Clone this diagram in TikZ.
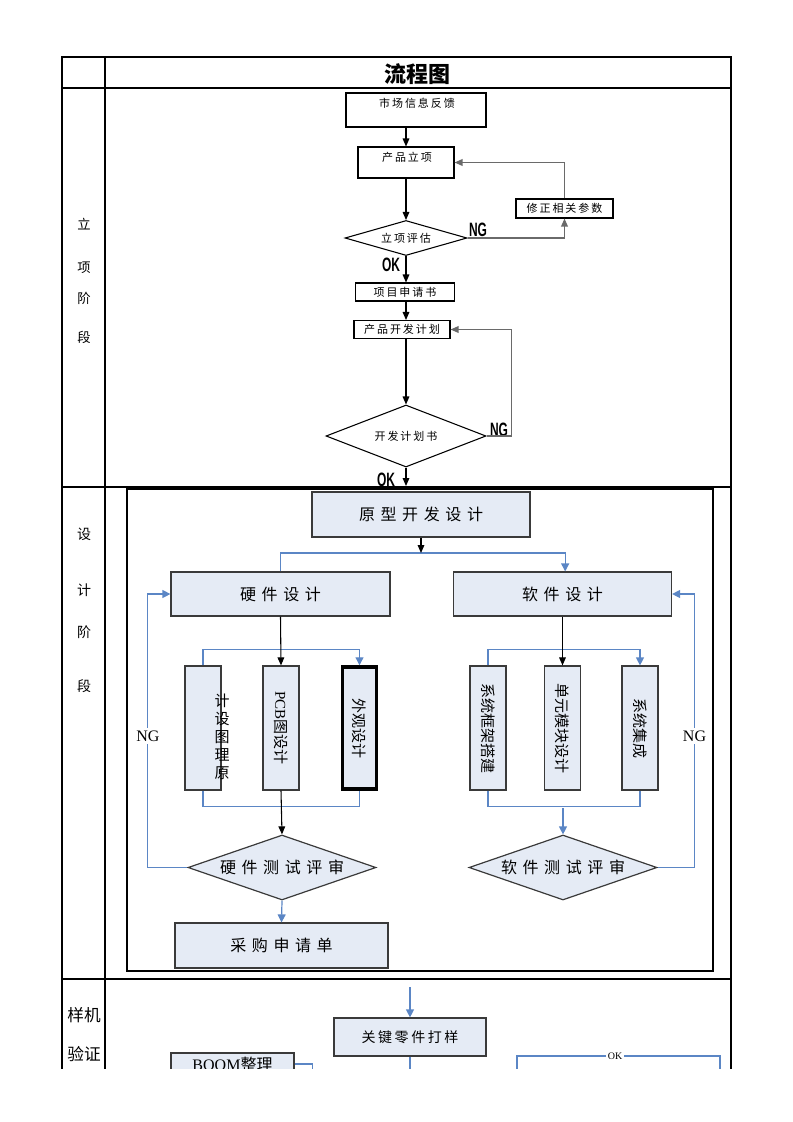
\documentclass[tikz,border=0pt]{standalone}
\usepackage{fontspec}
\setmainfont{Liberation Serif}
\newfontfamily\cjk{Noto Sans CJK SC}
\newfontfamily\cjkS[LetterSpace=18]{Noto Sans CJK SC}
\newfontfamily\cjkL[LetterSpace=35]{Noto Sans CJK SC}
\newfontfamily\ngfont[FakeStretch=0.62]{Liberation Sans}
\usetikzlibrary{shapes.geometric,arrows.meta}
\definecolor{bfill}{HTML}{E5EBF5}
\definecolor{bline}{HTML}{5B86C5}
\definecolor{gline}{HTML}{6A6A6A}
\definecolor{bdraw}{HTML}{3A3A3A}
\begin{document}
\begin{tikzpicture}[x=0.75pt,y=-0.75pt,
  tbl/.style={line width=1.1pt},
  sbox/.style={draw,line width=0.8pt,inner sep=0pt},
  stext/.style={font=\cjkS\fontsize{8.25pt}{10pt}\selectfont,inner sep=0pt},
  arr/.style={-{Triangle[length=6pt,width=5pt]},line width=0.8pt},
  garr/.style={arr,draw=gline,line width=1pt},
  sdia/.style={diamond,draw,line width=0.8pt,inner sep=0pt},
  ngs/.style={font=\ngfont\bfseries\fontsize{14.5pt}{15pt}\selectfont,inner sep=0pt},
  side/.style={font=\cjk\fontsize{10pt}{12pt}\selectfont,inner sep=0pt},
  bbox/.style={draw=bdraw,fill=bfill,line width=0.9pt,inner sep=0pt,font=\cjkL\fontsize{12pt}{14pt}\selectfont},
  vbox/.style={draw=bdraw,fill=bfill,line width=0.9pt,inner sep=0pt,minimum width=27pt,minimum height=93pt},
  vtext/.style={rotate=-90,inner sep=0pt,font=\cjk\fontsize{11.25pt}{13pt}\selectfont},
  bdia/.style={diamond,draw=bdraw,fill=bfill,line width=0.9pt,inner sep=0pt,shape aspect=2.9,minimum width=141pt,minimum height=48.75pt,font=\cjkL\fontsize{12pt}{14pt}\selectfont},
  bl/.style={draw=bline,line width=0.9pt},
  blarr/.style={bl,-{Triangle[length=6pt,width=6pt]}},
  ngb/.style={fill=white,inner xsep=0pt,inner ysep=2pt,font=\fontsize{12pt}{13pt}\selectfont}
]
\useasboundingbox (0,0) rectangle (793,1122);
\begin{scope}
\clip (0,0) rectangle (793,1068);
% table
\draw[tbl] (62,57) rectangle (731,1100);
\draw[tbl] (105,57) -- (105,1100);
\draw[tbl] (62,88) -- (731,88);
\draw[tbl] (62,487) -- (731,487);
\draw[tbl] (62,979) -- (731,979);
\node[font=\cjk\bfseries\fontsize{16.5pt}{18pt}\selectfont,inner sep=0pt] (title) at (417,74) {流程图};
% side labels
\node[side] (s1a) at (84,224) {立};
\node[side] (s1b) at (84,268) {项};
\node[side] (s1c) at (84,298) {阶};
\node[side] (s1d) at (84,337) {段};
\node[side,font=\cjk\fontsize{10.5pt}{12pt}\selectfont] (s2a) at (84,534) {设};
\node[side,font=\cjk\fontsize{10.5pt}{12pt}\selectfont] (s2b) at (84,590) {计};
\node[side,font=\cjk\fontsize{10.5pt}{12pt}\selectfont] (s2c) at (84,632) {阶};
\node[side,font=\cjk\fontsize{10.5pt}{12pt}\selectfont] (s2d) at (84,686) {段};
\node[side,font=\cjk\fontsize{12.5pt}{14pt}\selectfont] (s3a) at (84,1015) {样机};
\node[side,font=\cjk\fontsize{12.5pt}{14pt}\selectfont] (s3b) at (84,1054) {验证};

% ---------- row 1
\node[sbox,minimum width=105pt,minimum height=25.5pt] (mkt) at (416,110) {};
\node[stext] (mktt) at (417,103) {市场信息反馈};
\node[sbox,minimum width=72pt,minimum height=23.25pt] (proj) at (406,162.5) {};
\node[stext] (projt) at (407,157) {产品立项};
\node[sbox,stext,minimum width=72.75pt,minimum height=14.25pt] (fix) at (564.5,208.5) {修正相关参数};
\node[sdia,stext,shape aspect=3.5,minimum width=91.5pt,minimum height=26.25pt] (eval) at (406,238) {立项评估};
\node[ngs] (ng1) at (478,230) {NG};
\node[ngs] (ok1) at (391,265) {OK};
\node[sbox,stext,minimum width=74pt,minimum height=13.5pt] (app) at (405,292) {项目申请书};
\node[sbox,stext,minimum width=72pt,minimum height=13.5pt] (plan) at (402,329.5) {产品开发计划};
\node[sdia,stext,shape aspect=2.6,minimum width=120pt,minimum height=46.5pt] (plandoc) at (406,436) {开发计划书};
\node[ngs] (ng2) at (499,430) {NG};
\node[ngs] (ok2) at (386,480) {OK};
\coordinate (r1out) at (406,486);

\draw[arr] (mkt.south -| proj.north) -- (proj.north);
\draw[arr] (proj.south) -- (eval.north);
\draw[garr] (eval.east) -| (fix.south);
\draw[garr] (fix.north) |- (proj.east);
\draw[arr] (eval.south) -- (eval.south |- app.north);
\draw[arr] (eval.south |- app.south) -- (eval.south |- plan.north);
\draw[arr] (eval.south |- plan.south) -- (plandoc.north);
\draw[garr] (plandoc.east) -- ++(25,0) |- (plan.east);
\draw[arr] (plandoc.south) -- (r1out);

% ---------- row 2
\draw[line width=1.1pt] (127,489) rectangle (713,971);
\node[bbox,minimum width=163.5pt,minimum height=33.75pt] (proto) at (421,514.5) {原型开发设计};
\node[bbox,minimum width=164.25pt,minimum height=33pt] (hw) at (280.5,594) {硬件设计};
\node[bbox,minimum width=163.5pt,minimum height=33pt] (sw) at (562.5,594) {软件设计};
\coordinate (split) at (421,553);
\draw[bl] (hw.north) |- (split);
\draw[blarr] (split) -| ([xshift=2pt]sw.north);
\draw[arr] (proto.south) -- (split);

\node[vbox] (sch) at (203,728) {};
\node[vbox] (pcb) at (281,728) {};
\node[vbox,draw=black,line width=2.6pt,minimum width=25.5pt,minimum height=91.5pt] (ext) at (359.5,728) {};
\node[font=\cjk\fontsize{11.25pt}{13.6pt}\selectfont,align=center,inner sep=0pt] (scht) at (222,737) {计\\设\\图\\理\\原};
\node[vtext] (pcbt) at (pcb) {{\rmfamily PCB}图设计};
\node[vtext] (extt) at (ext) {外观设计};
\draw[blarr] (sch.north) -- ++(0,-16) -| (ext.north);
\draw[bl] (sch.south) -- ++(0,16) -| (ext.south);
\draw[arr] (hw.south) -- (pcb.north);

\node[bdia] (hwt) at (282,867.5) {硬件测试评审};
\draw[arr] (pcb.south) -- (hwt.north);
\draw[blarr] (hwt.west) -- ++(-40,0) |- (hw.west);
\node[ngb] (ng3) at (148,736) {NG};
\node[bbox,minimum width=159.75pt,minimum height=33.75pt] (buy) at (281.5,945.5) {采购申请单};
\draw[blarr] (hwt.south) -- (buy.north);

\node[vbox] (fr) at (488,728) {};
\node[vbox] (unit) at (562.5,728) {};
\node[vbox] (integ) at (640,728) {};
\node[vtext] (frt) at (fr) {系统框架搭建};
\node[vtext] (unitt) at (unit) {单元模块设计};
\node[vtext] (integt) at (integ) {系统集成};
\draw[blarr] (fr.north) -- ++(0,-16) -| (integ.north);
\draw[bl] (fr.south) -- ++(0,16) -| (integ.south);
\draw[arr] (sw.south) -- (unit.north);

\node[bdia] (swt) at (563,867.5) {软件测试评审};
\coordinate (swb) at (563,808);
\draw[blarr] (swb) -- (swt.north);
\draw[blarr] (swt.east) -- ++(37,0) |- (sw.east);
\node[ngb] (ng4) at (694.5,736) {NG};

% ---------- row 3
\coordinate (r3in) at (410,987);
\node[bbox,font=\cjkS\fontsize{10.5pt}{12pt}\selectfont,minimum width=114pt,minimum height=28.5pt] (key) at (410,1037) {关键零件打样};
\draw[blarr] (r3in) -- (key.north);
\coordinate (keyout) at (410,1080);
\draw[bl] (key.south) -- (keyout);
\node[bbox,minimum width=92.25pt,minimum height=25.5pt] (boom) at (232.5,1070) {};
\node[inner sep=0pt,font=\fontsize{12pt}{13pt}\selectfont] (boomt) at (232.5,1064) {BOOM{\cjk 整理}};
\draw[bl] ([yshift=4.5pt]boom.east) -- ++(18,0) -- ++(0,20);
\coordinate (okBL) at (517,1080);
\coordinate (okTL) at (517,1056);
\coordinate (okTR) at (720,1056);
\coordinate (okBR) at (720,1080);
\draw[bl] (okBL) -- (okTL) -- (okTR) -- (okBR);
\node[fill=white,inner xsep=1pt,inner ysep=0pt,font=\fontsize{7.5pt}{8pt}\selectfont] (okt) at (615,1056) {OK};
\end{scope}
\end{tikzpicture}
\end{document}
